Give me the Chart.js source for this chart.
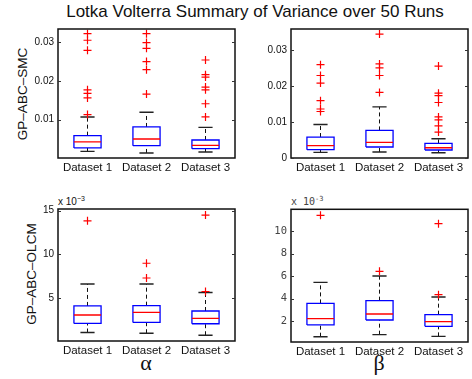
<!DOCTYPE html>
<html><head><meta charset="utf-8">
<script src="https://cdn.jsdelivr.net/npm/chart.js@4.4.0/dist/chart.umd.min.js"></script>
<style>
body{margin:0;width:472px;height:379px;background:#fff;position:relative;overflow:hidden;font-family:'Liberation Sans',Arial,sans-serif;}
.abs{position:absolute;white-space:nowrap;color:#111;}
canvas{position:absolute;}
.ylab{position:absolute;width:200px;height:16px;line-height:16px;text-align:center;font-size:13.5px;transform:rotate(-90deg);color:#111;}
sup{font-size:70%;}
</style></head><body>
<div class="abs" style="left:0;width:510px;top:2px;text-align:center;font-size:17px;">Lotka Volterra Summary of Variance over 50 Runs</div>
<div class="ylab" style="left:-77px;top:86px;">GP–ABC–SMC</div>
<div class="ylab" style="left:-68px;top:266px;">GP–ABC–OLCM</div>
<div class="abs" style="left:58px;top:195px;font-size:10px;">x 10<sup>−3</sup></div>
<div class="abs" style="left:291px;top:195px;font-size:10px;font-family:'DejaVu Sans Mono',monospace;color:#444;">x 10<sup>-3</sup></div>
<div class="abs" style="left:46px;width:200px;top:350px;text-align:center;font-size:22px;font-family:'Liberation Serif',serif;">α</div>
<div class="abs" style="left:279px;width:200px;top:350px;text-align:center;font-size:22px;font-family:'Liberation Serif',serif;">β</div>
<canvas id="c1"></canvas><canvas id="c2"></canvas><canvas id="c3"></canvas><canvas id="c4"></canvas>
<script>
const categories = ['Dataset 1', 'Dataset 2', 'Dataset 3'];

// GP-ABC-SMC, alpha
const smcAlphaLow = [0.00181, 0.00140, 0.00165];
const smcAlphaQ1 = [0.00269, 0.00328, 0.00251];
const smcAlphaMedian = [0.00424, 0.00501, 0.00336];
const smcAlphaQ3 = [0.00587, 0.00811, 0.00475];
const smcAlphaHigh = [0.0107, 0.0119, 0.0080];
const smcAlphaOutliers = [
  [0.0322, 0.0305, 0.0279, 0.0177, 0.0168, 0.0156, 0.0113],
  [0.0322, 0.0299, 0.0284, 0.0250, 0.0229, 0.0166],
  [0.0254, 0.0216, 0.0210, 0.0184, 0.0177, 0.0141, 0.0107]
];
const smcAlphaTicks = [0.01, 0.02, 0.03];

// GP-ABC-SMC, beta
const smcBetaLow = [0.00155, 0.00166, 0.00147];
const smcBetaQ1 = [0.00230, 0.00305, 0.00222];
const smcBetaMedian = [0.00341, 0.00432, 0.00285];
const smcBetaQ3 = [0.00582, 0.00765, 0.00404];
const smcBetaHigh = [0.0093, 0.0142, 0.00535];
const smcBetaOutliers = [
  [0.0259, 0.0229, 0.0208, 0.0159, 0.0136, 0.0129],
  [0.0344, 0.0261, 0.0250, 0.0229, 0.0182],
  [0.0255, 0.0180, 0.0173, 0.0154, 0.0114, 0.0106, 0.0089, 0.0072]
];
const smcBetaTicks = [0, 0.01, 0.02, 0.03];

// GP-ABC-OLCM, alpha (x 10^-3)
const olcmAlphaLow = [1.08, 1.00, 0.77];
const olcmAlphaQ1 = [2.12, 2.23, 2.08];
const olcmAlphaMedian = [3.08, 3.38, 2.69];
const olcmAlphaQ3 = [4.12, 4.15, 3.54];
const olcmAlphaHigh = [6.62, 6.62, 5.65];
const olcmAlphaOutliers = [[13.85], [9.0, 7.31], [14.5, 5.77]];
const olcmAlphaTicks = [5, 10, 15];

// GP-ABC-OLCM, beta (x 10^-3)
const olcmBetaLow = [0.64, 0.82, 0.67];
const olcmBetaQ1 = [1.68, 2.12, 1.56];
const olcmBetaMedian = [2.24, 2.65, 1.97];
const olcmBetaQ3 = [3.59, 3.83, 2.59];
const olcmBetaHigh = [5.45, 6.01, 4.15];
const olcmBetaOutliers = [[11.39], [6.43], [10.65, 4.36]];
const olcmBetaTicks = [2, 4, 6, 8, 10];

const BOX_HALF = 0.23, CAP_HALF = 0.12;

const framePlugin = {
  id: 'frame',
  afterDraw(chart) {
    const a = chart.chartArea, ctx = chart.ctx, y = chart.scales.y;
    ctx.save();
    ctx.strokeStyle = '#111';
    ctx.lineWidth = 1.5;
    ctx.strokeRect(a.left, a.top, a.right - a.left, a.bottom - a.top);
    ctx.lineWidth = 1;
    ctx.strokeStyle = '#333';
    y.ticks.forEach(t => {
      const py = Math.round(y.getPixelForValue(t.value)) + 0.5;
      ctx.beginPath();
      ctx.moveTo(a.left, py); ctx.lineTo(a.left + 3, py);
      ctx.moveTo(a.right, py); ctx.lineTo(a.right - 3, py);
      ctx.stroke();
    });
    ctx.restore();
  }
};

function makePanel(id, rect, low, q1, med, q3, high, outl, yMin, yMax, yTicks, fmt, tickFont, tickColor) {
  const cv = document.getElementById(id);
  const padL = 50, padT = 10, padR = 10, padB = 30;
  cv.style.left = (rect[0] - padL) + 'px';
  cv.style.top = (rect[1] - padT) + 'px';
  cv.width = rect[2] - rect[0] + padL + padR;
  cv.height = rect[3] - rect[1] + padT + padB;
  const boxes = [], medians = [], whiskers = [], caps = [], outliers = [];
  categories.forEach((c, i) => {
    const x = i + 1;
    boxes.push({x: x - BOX_HALF, y: q1[i]}, {x: x + BOX_HALF, y: q1[i]}, {x: x + BOX_HALF, y: q3[i]},
               {x: x - BOX_HALF, y: q3[i]}, {x: x - BOX_HALF, y: q1[i]}, {x: x, y: NaN});
    medians.push({x: x - BOX_HALF, y: med[i]}, {x: x + BOX_HALF, y: med[i]}, {x: x, y: NaN});
    whiskers.push({x: x, y: q3[i]}, {x: x, y: high[i]}, {x: x, y: NaN},
                  {x: x, y: low[i]}, {x: x, y: q1[i]}, {x: x, y: NaN});
    caps.push({x: x - CAP_HALF, y: high[i]}, {x: x + CAP_HALF, y: high[i]}, {x: x, y: NaN},
              {x: x - CAP_HALF, y: low[i]}, {x: x + CAP_HALF, y: low[i]}, {x: x, y: NaN});
    outl[i].forEach(v => outliers.push({x: x, y: v}));
  });
  const lineDs = (data, color, width, dash) => ({
    data, showLine: true, borderColor: color, borderWidth: width, borderDash: dash || [],
    pointRadius: 0, pointHoverRadius: 0, spanGaps: false, fill: false
  });
  new Chart(cv, {
    type: 'scatter',
    data: {
      datasets: [
        {data: outliers, pointStyle: 'cross', pointRadius: 4, pointHoverRadius: 4,
         borderColor: '#ff0000', borderWidth: 1.2, showLine: false},
        lineDs(medians, '#ff0000', 1.3),
        lineDs(boxes, '#0000ff', 1.3),
        lineDs(caps, '#222', 1.4),
        lineDs(whiskers, '#111', 1, [4, 3])
      ]
    },
    options: {
      responsive: false, animation: false, events: [],
      layout: {padding: {top: padT, right: padR, left: 0, bottom: 0}},
      plugins: {legend: {display: false}, tooltip: {enabled: false}},
      scales: {
        x: {
          type: 'linear', min: 0.5, max: 3.5,
          grid: {display: false, drawTicks: false, tickLength: 0}, border: {display: false},
          afterBuildTicks: s => { s.ticks = categories.map((c, i) => ({value: i + 1})); },
          afterFit: s => { s.height = padB; },
          ticks: {autoSkip: false, maxRotation: 0, padding: 3, color: '#111',
                  font: {family: "'Liberation Sans', Arial, sans-serif", size: 11.5},
                  callback: v => categories[Math.round(v) - 1]}
        },
        y: {
          type: 'linear', min: yMin, max: yMax,
          grid: {display: false, drawTicks: false, tickLength: 0}, border: {display: false},
          afterBuildTicks: s => { s.ticks = yTicks.map(v => ({value: v})); },
          afterFit: s => { s.width = padL; },
          ticks: {padding: 4, color: tickColor, font: tickFont, callback: fmt}
        }
      }
    },
    plugins: [framePlugin]
  });
}

const arial10 = {family: "'Liberation Sans', Arial, sans-serif", size: 10};
const mono = {family: "'DejaVu Sans Mono', monospace", size: 10.5};
const fmtSmc = v => v === 0 ? '0' : v.toFixed(2);
const fmtInt = v => String(v);

makePanel('c1', [58, 29, 235, 158], smcAlphaLow, smcAlphaQ1, smcAlphaMedian, smcAlphaQ3, smcAlphaHigh, smcAlphaOutliers,
          0.0001, 0.0334, smcAlphaTicks, fmtSmc, arial10, '#111');
makePanel('c2', [291, 29, 468, 158], smcBetaLow, smcBetaQ1, smcBetaMedian, smcBetaQ3, smcBetaHigh, smcBetaOutliers,
          0, 0.0358, smcBetaTicks, fmtSmc, arial10, '#111');
makePanel('c3', [58, 209, 235, 341], olcmAlphaLow, olcmAlphaQ1, olcmAlphaMedian, olcmAlphaQ3, olcmAlphaHigh, olcmAlphaOutliers,
          0.11, 15.2, olcmAlphaTicks, fmtInt, arial10, '#111');
makePanel('c4', [291, 209, 468, 342], olcmBetaLow, olcmBetaQ1, olcmBetaMedian, olcmBetaQ3, olcmBetaHigh, olcmBetaOutliers,
          0.17, 11.92, olcmBetaTicks, fmtInt, mono, '#444');
</script>
</body></html>
